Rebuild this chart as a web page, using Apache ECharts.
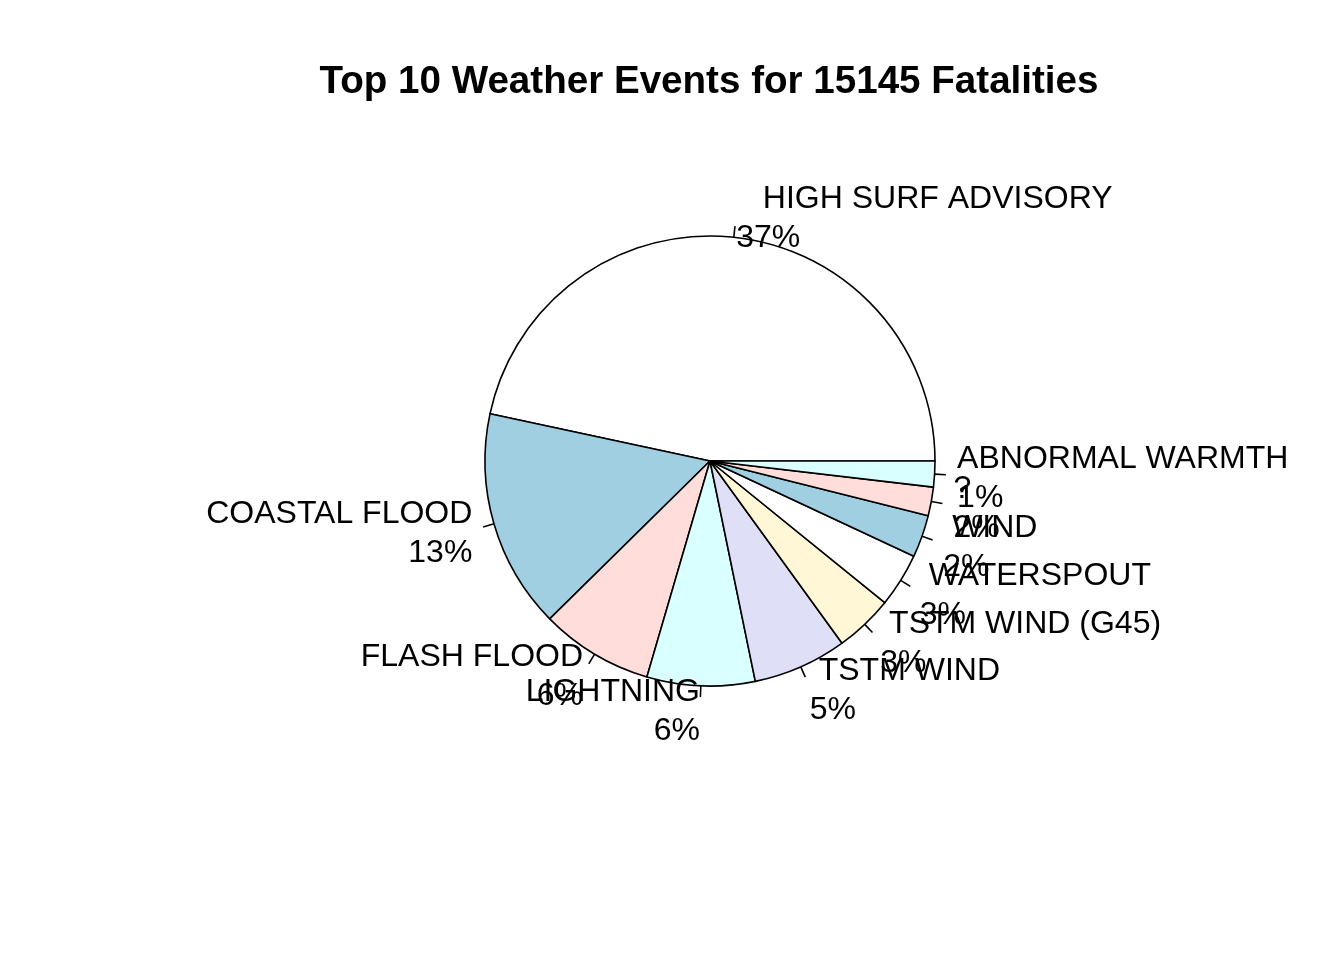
<!DOCTYPE html>
<html>
<head>
<meta charset="utf-8">
<script src="https://cdn.jsdelivr.net/npm/echarts@6/dist/echarts.min.js"></script>
<style>
html, body { margin: 0; padding: 0; background: #ffffff; }
#chart { width: 1344px; height: 960px; }
</style>
</head>
<body>
<div id="chart"></div>
<script>
// Event names exactly as drawn (leading spaces come from the original data levels)
const categories = ['   HIGH SURF ADVISORY', ' COASTAL FLOOD', ' FLASH FLOOD', ' LIGHTNING', ' TSTM WIND',
  ' TSTM WIND (G45)', ' WATERSPOUT', ' WIND', '?', 'ABNORMAL WARMTH'];
// Slice sizes (fatality counts)
const fatalities = [5633, 1903, 978, 937, 816, 504, 470, 368, 248, 224];
// Percentage labels as printed
const pctLabels = ['37%', '13%', '6%', '6%', '5%', '3%', '3%', '2%', '2%', '1%'];
const titleText = 'Top 10 Weather Events for 15145 Fatalities';

const sliceColors = ['#ffffff', '#9fcfe0', '#ffdddb', '#d9ffff', '#dfdff8', '#fff7d6'];
const R = 225;

const chart = echarts.init(document.getElementById('chart'), null, { renderer: 'canvas', width: 1344, height: 960 });

const data = categories.map((name, i) => ({
  name: name,
  value: fatalities[i],
  itemStyle: { color: sliceColors[i % sliceColors.length] }
}));

chart.setOption({
  backgroundColor: '#ffffff',
  animation: false,
  title: {
    text: titleText,
    left: 709,
    top: 63,
    textAlign: 'center',
    padding: 0,
    textStyle: {
      fontFamily: 'Liberation Sans, Arial, sans-serif',
      fontWeight: 'bold',
      fontSize: 38.6,
      color: '#000000'
    }
  },
  series: [{
    type: 'pie',
    center: [710, 461],
    radius: [0, R],
    startAngle: 0,
    clockwise: false,
    minAngle: 0,
    avoidLabelOverlap: false,
    silent: true,
    itemStyle: { borderColor: '#000000', borderWidth: 1.6 },
    label: {
      show: true,
      position: 'outside',
      formatter: p => p.name + '\n' + pctLabels[p.dataIndex],
      fontFamily: 'Liberation Sans, Arial, sans-serif',
      fontSize: 32,
      lineHeight: 39,
      color: '#000000'
    },
    labelLine: {
      show: true,
      length: R * 0.05,
      length2: 0,
      smooth: false,
      lineStyle: { color: '#000000', width: 1.6 }
    },
    labelLayout: function (params) {
      const pts = params.labelLinePoints;
      if (!pts) return {};
      const ux = pts[1][0] - pts[0][0];
      const uy = pts[1][1] - pts[0][1];
      return {
        x: pts[0][0] + 2 * ux,
        y: pts[0][1] + 2 * uy + 3.5,
        align: ux < 0 ? 'right' : 'left',
        verticalAlign: 'middle',
        labelLinePoints: [pts[0], pts[1]]
      };
    },
    data: data
  }]
});
</script>
</body>
</html>
